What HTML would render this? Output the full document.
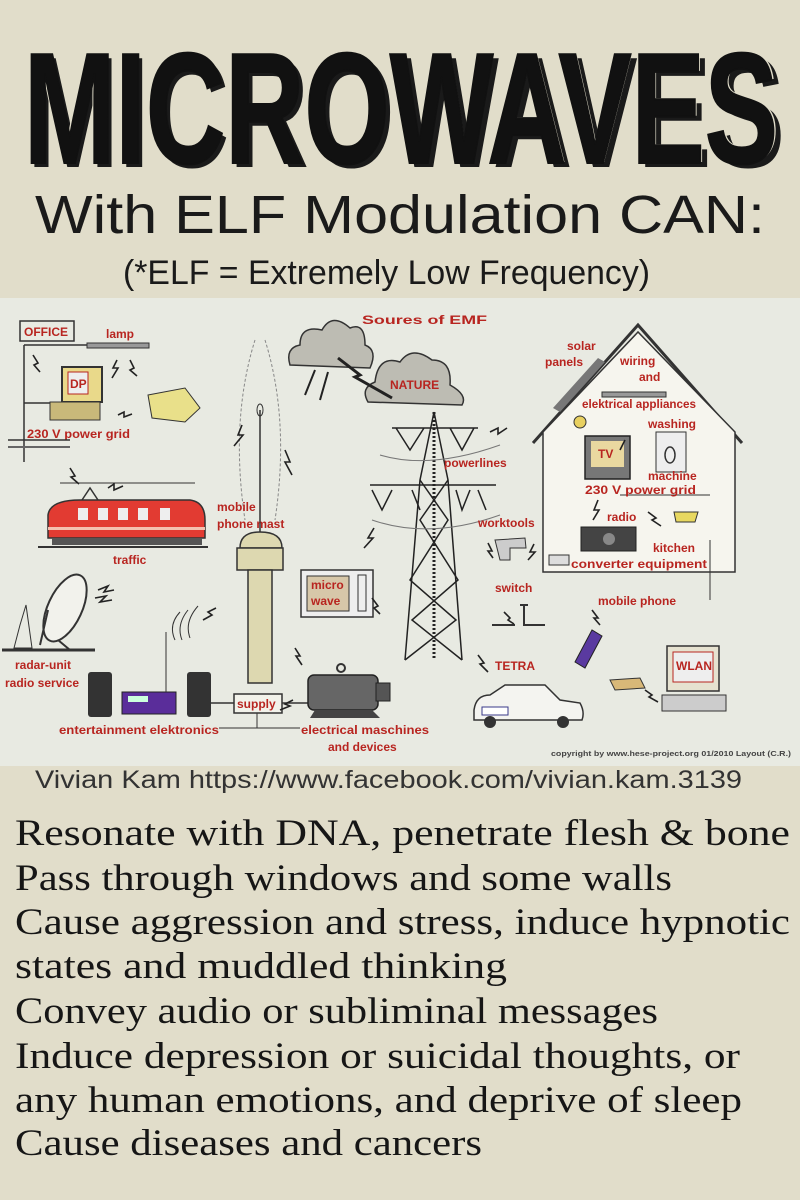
<!DOCTYPE html>
<html><head><meta charset="utf-8"><style>
html,body{margin:0;padding:0;background:#e1ddca;}
svg{display:block}
.l{font-family:"Liberation Sans Narrow","Liberation Sans",sans-serif;font-weight:bold;fill:#b82520;font-size:12px}
.b{font-family:"Liberation Serif",serif;font-size:37px;fill:#161616}
</style></head><body>
<svg width="800" height="1200" viewBox="0 0 800 1200" xmlns="http://www.w3.org/2000/svg">
<rect width="800" height="1200" fill="#e1ddca"/>
<!-- Title -->
<g font-family="Liberation Sans, sans-serif" font-weight="bold">
<text x="27" y="167" font-size="158" textLength="758" lengthAdjust="spacingAndGlyphs" fill="#1a1a1a">MICROWAVES</text>
<text x="22" y="162" font-size="158" textLength="758" lengthAdjust="spacingAndGlyphs" fill="#e1ddca">MICROWAVES</text>
<text x="24" y="163" font-size="158" textLength="754" lengthAdjust="spacingAndGlyphs" fill="#111" stroke="#111" stroke-width="2">MICROWAVES</text>
</g>
<text x="35" y="233" font-family="Liberation Sans, sans-serif" font-size="54" textLength="730" lengthAdjust="spacingAndGlyphs" fill="#1a1a1a">With ELF Modulation CAN:</text>
<text x="123" y="284" font-family="Liberation Sans Narrow, Liberation Sans, sans-serif" font-size="34" textLength="527" lengthAdjust="spacingAndGlyphs" fill="#1a1a1a">(*ELF = Extremely Low Frequency)</text>

<!-- Diagram -->
<rect x="0" y="298" width="800" height="468" fill="#e8eae2"/>
<text x="362" y="324" class="l" font-size="15" textLength="125" lengthAdjust="spacingAndGlyphs">Soures of EMF</text>

<!-- office -->
<rect x="20" y="321" width="54" height="20" fill="none" stroke="#333" stroke-width="1.5"/>
<text x="24" y="336" class="l">OFFICE</text>
<text x="106" y="338" class="l">lamp</text>
<rect x="87" y="343" width="62" height="5" fill="#999" stroke="#333"/>
<line x1="24" y1="345" x2="87" y2="345" stroke="#333" stroke-width="1.5"/>
<line x1="24" y1="345" x2="24" y2="462" stroke="#333" stroke-width="1.5"/>
<line x1="24" y1="403" x2="62" y2="403" stroke="#333" stroke-width="1.5"/>
<rect x="62" y="367" width="40" height="35" fill="#e9d98a" stroke="#333" stroke-width="2"/>
<rect x="68" y="372" width="20" height="22" fill="#eee" stroke="#b82520"/>
<text x="70" y="388" class="l">DP</text>
<rect x="50" y="402" width="50" height="18" fill="#c9b97a" stroke="#333"/>
<path d="M148 395 L185 388 L200 408 L185 422 L152 418 Z" fill="#e9e08a" stroke="#333"/>
<text x="27" y="438" class="l" textLength="103" lengthAdjust="spacingAndGlyphs">230 V power grid</text>
<line x1="8" y1="440" x2="70" y2="440" stroke="#333" stroke-width="1.5"/>
<line x1="8" y1="447" x2="70" y2="447" stroke="#666" stroke-width="2"/>

<!-- train -->
<line x1="60" y1="483" x2="195" y2="483" stroke="#333"/>
<path d="M82 500 L90 488 L98 500" fill="none" stroke="#333" stroke-width="1.5"/>
<path d="M48 515 Q50 500 80 500 L190 500 Q205 502 205 520 L205 538 L48 538 Z" fill="#e23b32" stroke="#333" stroke-width="1.5"/>
<rect x="78" y="508" width="10" height="12" fill="#eee"/><rect x="98" y="508" width="10" height="12" fill="#eee"/><rect x="118" y="508" width="10" height="12" fill="#eee"/><rect x="138" y="508" width="10" height="12" fill="#eee"/><rect x="160" y="508" width="10" height="12" fill="#eee"/>
<rect x="48" y="527" width="157" height="3" fill="#f4c0b0"/>
<rect x="52" y="538" width="150" height="7" fill="#555"/>
<line x1="38" y1="547" x2="208" y2="547" stroke="#333" stroke-width="2"/>
<text x="113" y="564" class="l">traffic</text>

<!-- radar -->
<ellipse cx="65" cy="608" rx="17" ry="36" transform="rotate(25 65 608)" fill="#f2f2ec" stroke="#333" stroke-width="2"/>
<path d="M48 610 L40 645 M58 640 L70 650" stroke="#333" stroke-width="2"/>
<path d="M20 625 L26 605 L32 648 L14 648 Z" fill="none" stroke="#333"/>
<line x1="2" y1="650" x2="95" y2="650" stroke="#333" stroke-width="3"/>
<text x="15" y="669" class="l">radar-unit</text>
<text x="5" y="687" class="l">radio service</text>

<!-- mast -->
<path d="M255 340 Q230 420 245 520 M265 340 Q290 420 275 520" fill="none" stroke="#888" stroke-dasharray="3 2"/>
<line x1="260" y1="410" x2="260" y2="532" stroke="#333" stroke-width="1.5"/>
<ellipse cx="260" cy="410" rx="3" ry="6" fill="none" stroke="#333"/>
<text x="217" y="511" class="l">mobile</text>
<text x="217" y="528" class="l">phone mast</text>
<line x1="260" y1="515" x2="260" y2="530" stroke="#333"/>
<path d="M240 548 Q240 532 260 532 Q282 532 282 548 Z" fill="#ddd8b0" stroke="#333" stroke-width="1.5"/>
<rect x="237" y="548" width="46" height="22" fill="#ddd8b0" stroke="#333" stroke-width="1.5"/>
<rect x="248" y="570" width="24" height="113" fill="#ddd8b0" stroke="#333" stroke-width="1.5"/>

<!-- microwave -->
<rect x="301" y="570" width="72" height="47" fill="#eee" stroke="#333" stroke-width="1.5"/>
<rect x="307" y="576" width="42" height="35" fill="#d7c7a9" stroke="#333"/>
<text x="311" y="589" class="l">micro</text>
<text x="311" y="605" class="l">wave</text>
<rect x="358" y="575" width="8" height="36" fill="none" stroke="#333"/>

<!-- entertainment -->
<rect x="88" y="672" width="24" height="45" rx="3" fill="#333"/>
<rect x="187" y="672" width="24" height="45" rx="3" fill="#333"/>
<rect x="122" y="692" width="54" height="22" fill="#5a2d9a" stroke="#222"/>
<rect x="128" y="696" width="20" height="6" fill="#cfd"/>
<line x1="166" y1="632" x2="166" y2="692" stroke="#333"/>
<path d="M175 640 Q168 625 180 612 M182 640 Q176 625 188 610 M190 638 Q184 622 198 606" fill="none" stroke="#333"/>
<line x1="211" y1="703" x2="234" y2="703" stroke="#333" stroke-width="1.5"/>
<rect x="234" y="694" width="48" height="19" fill="#f2f2ea" stroke="#333" stroke-width="1.5"/>
<text x="237" y="708" class="l">supply</text>
<line x1="282" y1="703" x2="308" y2="703" stroke="#333" stroke-width="1.5"/>
<line x1="257" y1="713" x2="257" y2="728" stroke="#333"/>
<line x1="219" y1="728" x2="300" y2="728" stroke="#333"/>
<text x="59" y="734" class="l" textLength="160" lengthAdjust="spacingAndGlyphs">entertainment  elektronics</text>
<text x="301" y="734" class="l" textLength="128" lengthAdjust="spacingAndGlyphs">electrical maschines</text>
<text x="328" y="751" class="l">and devices</text>

<!-- motor -->
<rect x="308" y="675" width="70" height="35" rx="6" fill="#666" stroke="#222" stroke-width="1.5"/>
<rect x="376" y="683" width="14" height="18" fill="#555" stroke="#222"/>
<path d="M315 710 L310 718 L380 718 L372 710 Z" fill="#444"/>
<circle cx="341" cy="668" r="4" fill="none" stroke="#333" stroke-width="2"/>

<!-- clouds -->
<g fill="#bdbcb3" stroke="#333" stroke-width="1.5">
<path d="M290 365 Q285 348 300 345 Q300 325 322 330 Q332 312 350 328 Q365 322 365 345 Q378 350 370 368 Z"/>
<path d="M368 402 Q360 388 375 382 Q378 355 400 362 Q412 345 432 360 Q452 360 450 385 Q468 395 462 405 Z"/>
</g>
<path d="M338 358 L360 375 L355 377 L392 398" fill="none" stroke="#222" stroke-width="3"/>
<path d="M315 370 L305 395 M328 372 L320 400" stroke="#222" stroke-width="2"/>
<text x="390" y="389" class="l">NATURE</text>

<!-- pylon -->
<g fill="none" stroke="#222" stroke-width="1.5">
<path d="M434 412 L420 480 L405 660 M434 412 L448 480 L462 660"/>
<path d="M420 480 L448 520 L410 580 L456 620 L405 660 M448 480 L420 520 L458 580 L412 620 L462 660"/>
<path d="M392 428 L478 428 M370 485 L496 485 M396 428 L410 450 L424 428 M450 428 L462 450 L474 428"/>
<path d="M372 490 L382 510 L392 490 M412 490 L420 510 M456 490 L462 510 L470 490 M478 490 L486 510"/>
<path d="M434 412 L434 660" stroke-dasharray="2 2" stroke-width="3"/>
<path d="M380 455 Q430 470 500 445 M372 520 Q430 540 500 515" stroke="#777" stroke-width="1"/>
</g>
<text x="444" y="467" class="l">powerlines</text>

<!-- house -->
<path d="M533 443 L638 325 L742 443" fill="none" stroke="#333" stroke-width="3"/>
<path d="M543 432 L638 332 L735 432 L735 572 L543 572 Z" fill="#f6f5ee" stroke="#333" stroke-width="1.5"/>
<line x1="600" y1="572" x2="710" y2="572" stroke="#333"/>
<line x1="710" y1="540" x2="710" y2="600" stroke="#333"/>
<line x1="620" y1="495" x2="710" y2="495" stroke="#333"/>
<path d="M553 408 L598 358 L605 362 L560 412 Z" fill="#777"/>
<text x="567" y="350" class="l">solar</text>
<text x="545" y="366" class="l">panels</text>
<text x="620" y="365" class="l">wiring</text>
<text x="639" y="381" class="l">and</text>
<rect x="602" y="392" width="64" height="5" fill="#999" stroke="#333"/>
<text x="582" y="408" class="l" textLength="114" lengthAdjust="spacingAndGlyphs">elektrical appliances</text>
<circle cx="580" cy="422" r="6" fill="#e8d060" stroke="#333"/>
<text x="648" y="428" class="l">washing</text>
<rect x="585" y="436" width="45" height="43" fill="#777" stroke="#222" stroke-width="1.5"/>
<rect x="591" y="441" width="33" height="26" fill="#e9d8a0"/>
<text x="598" y="458" class="l">TV</text>
<rect x="656" y="432" width="30" height="40" fill="#eee" stroke="#333"/>
<ellipse cx="670" cy="455" rx="5" ry="8" fill="none" stroke="#333" stroke-width="1.5"/>
<text x="648" y="480" class="l">machine</text>
<text x="585" y="494" class="l" textLength="111" lengthAdjust="spacingAndGlyphs">230 V power grid</text>
<text x="607" y="521" class="l">radio</text>
<rect x="581" y="527" width="55" height="24" fill="#444" stroke="#222"/>
<circle cx="609" cy="539" r="6" fill="#888"/>
<path d="M674 512 L698 512 L695 522 L676 522 Z" fill="#e8d860" stroke="#333"/>
<text x="653" y="552" class="l">kitchen</text>
<rect x="549" y="555" width="20" height="10" fill="#ddd" stroke="#333"/>
<text x="571" y="568" class="l" textLength="136" lengthAdjust="spacingAndGlyphs">converter  equipment</text>

<!-- worktools / switch / tetra -->
<text x="478" y="527" class="l">worktools</text>
<path d="M495 540 L525 538 L526 548 L510 548 L510 560 L500 560 Z" fill="#ccc" stroke="#333"/>
<text x="495" y="592" class="l">switch</text>
<path d="M492 625 L515 625 M520 605 L528 605 M524 605 L524 625 L545 625" fill="none" stroke="#333" stroke-width="2"/>
<text x="495" y="670" class="l">TETRA</text>
<path d="M474 710 Q476 695 490 695 L505 685 L545 685 L560 700 L580 703 Q585 712 582 720 L474 720 Z" fill="#f4f4f0" stroke="#333" stroke-width="1.5"/>
<rect x="482" y="707" width="26" height="8" fill="#fff" stroke="#3a3a8a"/>
<circle cx="490" cy="722" r="6" fill="#333"/><circle cx="563" cy="722" r="6" fill="#333"/>
<text x="598" y="605" class="l">mobile phone</text>
<path d="M575 662 L592 630 L602 636 L585 668 Z" fill="#5a3aa0" stroke="#222"/>
<rect x="667" y="646" width="52" height="45" fill="#e6e2d0" stroke="#333" stroke-width="1.5"/>
<rect x="673" y="652" width="40" height="30" fill="#eee" stroke="#b82520"/>
<text x="676" y="670" class="l">WLAN</text>
<rect x="662" y="695" width="64" height="16" fill="#ccc" stroke="#333"/>
<path d="M610 680 L640 678 L645 688 L615 690 Z" fill="#d8b878" stroke="#333"/>

<!-- lightning marks -->
<g fill="none" stroke="#222" stroke-width="1.6">
<path d="M33 355 L38 363 L34 365 L40 372"/><path d="M117 360 L113 368 L118 368 L112 378"/><path d="M130 360 L134 368 L130 370 L137 376"/>
<path d="M118 415 L124 412 L124 417 L132 414"/><path d="M70 468 L75 476 L71 477 L79 484"/><path d="M108 488 L114 484 L114 490 L123 486"/>
<path d="M98 590 L108 586 L104 592 L114 590"/><path d="M95 598 L106 596 L100 602 L112 600"/>
<path d="M242 425 L238 435 L243 435 L234 446"/><path d="M285 450 L290 462 L285 462 L292 475"/>
<path d="M374 528 L368 538 L373 538 L364 548"/><path d="M490 432 L498 428 L498 434 L507 428"/>
<path d="M216 608 L208 612 L212 615 L203 620"/><path d="M295 648 L300 656 L296 656 L302 665"/>
<path d="M293 700 L285 704 L290 706 L280 710"/><path d="M372 598 L378 606 L374 608 L380 614"/>
<path d="M488 543 L492 551 L488 551 L493 558"/><path d="M534 544 L530 552 L535 552 L528 560"/>
<path d="M504 612 L510 618 L508 620 L514 624"/><path d="M478 655 L484 663 L480 664 L488 672"/>
<path d="M592 610 L598 618 L594 618 L600 625"/><path d="M598 500 L594 510 L599 510 L593 520"/>
<path d="M648 512 L656 518 L652 520 L661 526"/><path d="M625 440 L620 450"/>
<path d="M645 690 L652 695 L649 697 L658 702"/>
</g>
<text x="551" y="756" font-family="Liberation Sans Narrow, Liberation Sans, sans-serif" font-weight="bold" font-size="7" fill="#444" textLength="240" lengthAdjust="spacingAndGlyphs">copyright by www.hese-project.org 01/2010   Layout (C.R.)</text>

<text x="35" y="788" font-family="Liberation Sans, sans-serif" font-size="25" fill="#333" textLength="707" lengthAdjust="spacingAndGlyphs">Vivian Kam https://www.facebook.com/vivian.kam.3139</text>

<!-- body -->
<text class="b" x="15" y="845" textLength="775" lengthAdjust="spacingAndGlyphs">Resonate with DNA, penetrate flesh &amp; bone</text>
<text class="b" x="15" y="890" textLength="657" lengthAdjust="spacingAndGlyphs">Pass through windows and some walls</text>
<text class="b" x="15" y="934" textLength="775" lengthAdjust="spacingAndGlyphs">Cause aggression and stress, induce hypnotic</text>
<text class="b" x="15" y="978" textLength="492" lengthAdjust="spacingAndGlyphs">states and muddled thinking</text>
<text class="b" x="15" y="1023" textLength="643" lengthAdjust="spacingAndGlyphs">Convey audio or subliminal messages</text>
<text class="b" x="15" y="1068" textLength="725" lengthAdjust="spacingAndGlyphs">Induce depression or suicidal thoughts, or</text>
<text class="b" x="15" y="1112" textLength="727" lengthAdjust="spacingAndGlyphs">any human emotions, and deprive of sleep</text>
<text class="b" x="15" y="1155" textLength="467" lengthAdjust="spacingAndGlyphs">Cause diseases and cancers</text>
</svg>
</body></html>
